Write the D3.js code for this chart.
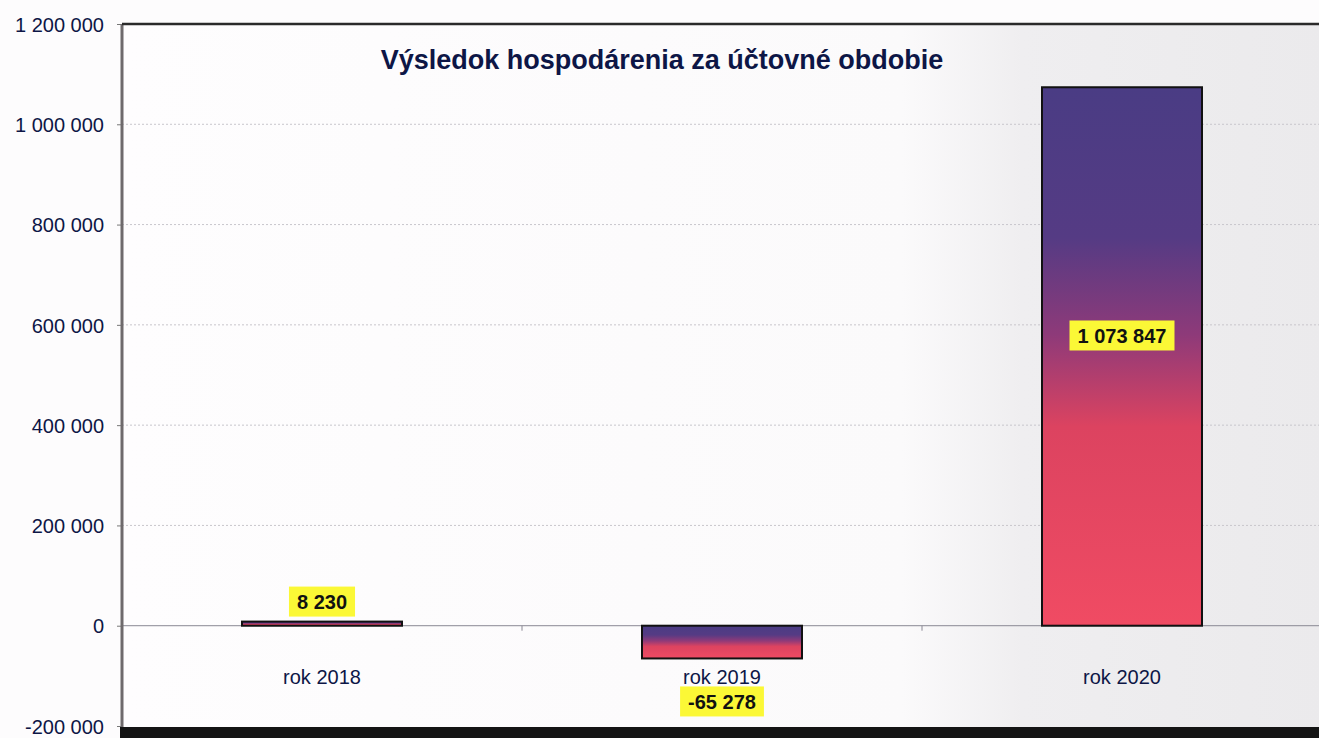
<!DOCTYPE html>
<html>
<head>
<meta charset="utf-8">
<script src="https://cdn.jsdelivr.net/npm/d3@7"></script>
<style>
  html, body { margin: 0; padding: 0; background: #fdfcfd; }
  svg { display: block; font-family: Arial, "Liberation Sans", sans-serif; }
</style>
</head>
<body>
<svg id="chart" width="1319" height="738"></svg>
<script>
// chart data
const categories = ['rok 2018', 'rok 2019', 'rok 2020'];
const values = [8230, -65278, 1073847];
const labels = ['8 230', '-65 278', '1 073 847'];
const yTicks = [-200000, 0, 200000, 400000, 600000, 800000, 1000000, 1200000];
const title = 'Výsledok hospodárenia za účtovné obdobie';

const width = 1319;
const height = 738;
const margin = { top: 24, right: -3, bottom: 10, left: 122 };
const plotW = width - margin.left - margin.right;
const plotH = height - margin.top - margin.bottom;
const textColor = '#0d1646';
const fontFamily = 'Arial, "Liberation Sans", sans-serif';

const svg = d3.select('#chart');

const defs = svg.append('defs');

// bar fill: purple on top, pink-red at bottom
const barGrad = defs.append('linearGradient')
  .attr('id', 'bar-gradient')
  .attr('x1', '0%').attr('y1', '0%')
  .attr('x2', '0%').attr('y2', '100%');
barGrad.append('stop').attr('offset', '0%').attr('stop-color', '#4a3c84');
barGrad.append('stop').attr('offset', '28%').attr('stop-color', '#553b84');
barGrad.append('stop').attr('offset', '46%').attr('stop-color', '#8e3a79');
barGrad.append('stop').attr('offset', '63%').attr('stop-color', '#dc4360');
barGrad.append('stop').attr('offset', '100%').attr('stop-color', '#f04b63');

// plot background: scanned paper gets greyer towards the right
const bgGrad = defs.append('linearGradient')
  .attr('id', 'bg-gradient')
  .attr('x1', '0%').attr('y1', '0%')
  .attr('x2', '100%').attr('y2', '0%');
bgGrad.append('stop').attr('offset', '0%').attr('stop-color', '#fefdfe');
bgGrad.append('stop').attr('offset', '65%').attr('stop-color', '#fbfafb');
bgGrad.append('stop').attr('offset', '75%').attr('stop-color', '#efeef0');
bgGrad.append('stop').attr('offset', '100%').attr('stop-color', '#ebeaec');

const g = svg.append('g')
  .attr('transform', `translate(${margin.left},${margin.top})`);

const x = d3.scaleBand()
  .domain(categories)
  .range([0, plotW])
  .paddingInner(0.6)
  .paddingOuter(0.3);

const y = d3.scaleLinear()
  .domain([-200000, 1200000])
  .range([plotH - 2, 0]);

g.append('rect')
  .attr('width', plotW)
  .attr('height', plotH)
  .attr('fill', 'url(#bg-gradient)');

// grid lines
g.append('g')
  .selectAll('line')
  .data(yTicks.filter(d => d !== 0 && d !== 1200000 && d !== -200000))
  .enter()
  .append('line')
  .attr('x1', 0)
  .attr('x2', plotW)
  .attr('y1', d => y(d))
  .attr('y2', d => y(d))
  .attr('stroke', '#c8c6cc')
  .attr('stroke-width', 1)
  .attr('stroke-dasharray', '2,2');

// zero line
g.append('line')
  .attr('x1', 0)
  .attr('x2', plotW)
  .attr('y1', y(0))
  .attr('y2', y(0))
  .attr('stroke', '#8a8894')
  .attr('stroke-width', 1);

// small ticks between categories on the zero line
const step = x.step();
g.append('g')
  .selectAll('line')
  .data(categories.slice(1))
  .enter()
  .append('line')
  .attr('x1', d => x(d) - (step - x.bandwidth()) / 2)
  .attr('x2', d => x(d) - (step - x.bandwidth()) / 2)
  .attr('y1', y(0))
  .attr('y2', y(0) + 5)
  .attr('stroke', '#8a8894');

// bars
g.selectAll('rect.bar')
  .data(values)
  .enter()
  .append('rect')
  .attr('class', 'bar')
  .attr('x', (d, i) => x(categories[i]))
  .attr('width', x.bandwidth())
  .attr('y', d => y(Math.max(0, d)))
  .attr('height', d => Math.abs(y(d) - y(0)))
  .attr('fill', 'url(#bar-gradient)')
  .attr('stroke', '#111')
  .attr('stroke-width', 2);

// category labels
g.selectAll('text.cat')
  .data(categories)
  .enter()
  .append('text')
  .attr('class', 'cat')
  .attr('x', d => x(d) + x.bandwidth() / 2)
  .attr('y', y(0) + 58)
  .attr('text-anchor', 'middle')
  .style('fill', textColor)
  .style('font-size', '20px')
  .text(d => d);

// data labels on yellow background
const labelY = (d) => {
  if (d > 1000000) return (y(d) + y(0)) / 2 - 21;
  if (d >= 0) return y(d) - 20;
  return y(d) + 43;
};

const dl = g.selectAll('g.dl')
  .data(values)
  .enter()
  .append('g')
  .attr('class', 'dl')
  .attr('transform', (d, i) => `translate(${x(categories[i]) + x.bandwidth() / 2},${labelY(d)})`);

dl.append('text')
  .attr('text-anchor', 'middle')
  .attr('dy', '0.36em')
  .style('fill', '#111')
  .style('font-size', '20px')
  .style('font-weight', 'bold')
  .text((d, i) => labels[i]);

dl.each(function () {
  const grp = d3.select(this);
  const bb = grp.select('text').node().getBBox();
  grp.insert('rect', 'text')
    .attr('x', bb.x - 8)
    .attr('y', -15)
    .attr('width', bb.width + 16)
    .attr('height', 30)
    .attr('fill', '#fbf836');
});

// y axis
const yAxis = d3.axisLeft(y)
  .tickValues(yTicks)
  .tickSize(5)
  .tickFormat(d => d3.format(',')(Math.abs(d)).replace(/,/g, ' ').replace(/^/, d < 0 ? '-' : ''));

const ya = g.append('g').call(yAxis)
  .attr('font-size', null)
  .attr('font-family', null);
ya.select('.domain').remove();
ya.selectAll('line').attr('stroke', '#777');
ya.selectAll('text')
  .attr('x', -18)
  .attr('dy', '0.36em')
  .style('fill', textColor)
  .style('font-size', '20px')
  .style('font-family', fontFamily);

// frame: left axis line, top border, bottom dark scan edge
g.append('line')
  .attr('x1', 0).attr('x2', 0)
  .attr('y1', 0).attr('y2', plotH)
  .attr('stroke', '#6e6a6c')
  .attr('stroke-width', 3);

g.append('line')
  .attr('x1', 0).attr('x2', plotW)
  .attr('y1', 0).attr('y2', 0)
  .attr('stroke', '#2a2a2a')
  .attr('stroke-width', 2.5);

svg.append('rect')
  .attr('x', margin.left - 2)
  .attr('y', margin.top + plotH - 1)
  .attr('width', plotW + 4)
  .attr('height', height - margin.top - plotH + 1)
  .attr('fill', '#141414');

// title
g.append('text')
  .attr('x', 540)
  .attr('y', 45)
  .attr('text-anchor', 'middle')
  .style('fill', textColor)
  .style('font-size', '27px')
  .style('font-weight', 'bold')
  .text(title);
</script>
</body>
</html>
